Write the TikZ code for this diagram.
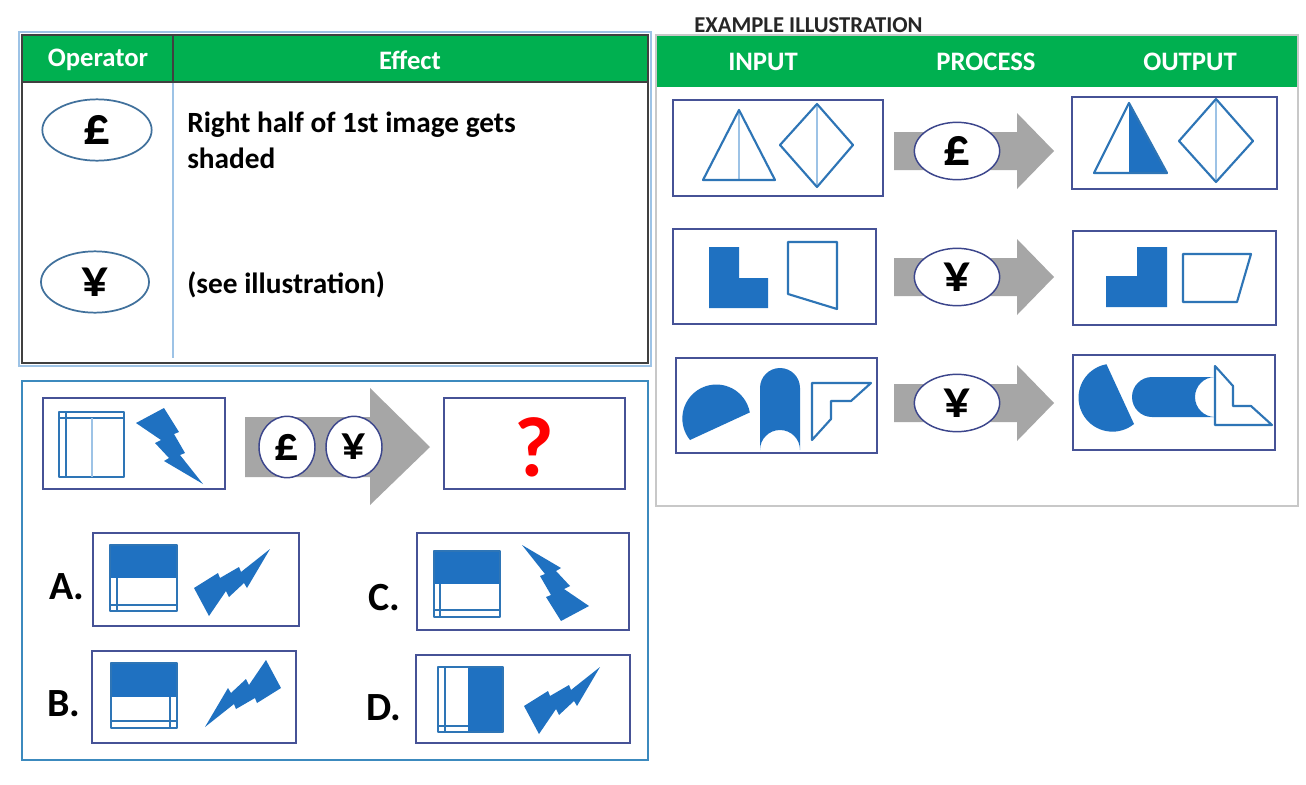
\documentclass[tikz,border=0pt]{standalone}
\usepackage{fontspec}
\setmainfont{Carlito}
\usepackage{xcolor}
\definecolor{HeaderGreen}{RGB}{0,176,80}
\definecolor{BoxNavy}{RGB}{70,82,150}
\definecolor{IconBlue}{RGB}{46,117,182}
\definecolor{ShapeBlue}{RGB}{31,113,193}
\definecolor{LightLine}{RGB}{157,195,230}
\definecolor{FrameBlue}{RGB}{60,138,190}
\definecolor{TableGray}{RGB}{64,64,64}
\definecolor{OpBlue}{RGB}{65,113,156}
\definecolor{ProcNavy}{RGB}{60,70,140}
\definecolor{ArrowGray}{RGB}{166,166,166}
\definecolor{PanelGray}{RGB}{200,200,200}
\definecolor{QuestRed}{RGB}{255,0,0}
\usepackage{tikz}
\usetikzlibrary{
    shapes.geometric
}

\begin{document}
\begin{tikzpicture}[
    x=0.75pt,
    y=-0.75pt,
    navybox/.style={
        draw=BoxNavy,
        line width=1.3pt
    },
    iconline/.style={
        draw=IconBlue,
        line width=1.6pt,
        line join=round
    },
    thinline/.style={
        draw=LightLine,
        line width=0.9pt
    },
    hdr/.style={
        text=white,
        font=\bfseries\fontsize{20}{24}\selectfont
    },
    opsym/.style={
        ellipse,
        fill=white,
        inner sep=0pt,
        font=\bfseries\fontsize{40}{40}\selectfont
    },
    optlabel/.style={
        font=\bfseries\fontsize{30}{30}\selectfont
    },
    bolt/.pic={
        \fill[ShapeBlue]
        (-34,-23) -- (-6,-38) -- (9,-14) -- (4,-12) -- (15,7) -- (10,9)
        -- (33,38) -- (-6,15) -- (-1,12) -- (-15,-3) -- (-9,-6) -- cycle;
    }
]
%
    \useasboundingbox[fill=white] (0,0) rectangle (1306,785);
%
    % Operator table
%
    \draw[LightLine, line width=1pt] (19,32) rectangle (651,366);
    \fill[HeaderGreen] (22,35) rectangle (648,82);
    \draw[thinline] (173,82) -- (173,358);
    \draw[TableGray, line width=1.2pt] (173,35) -- (173,82);
    \draw[TableGray, line width=1.2pt] (22,82) -- (648,82);
    \draw[TableGray, line width=1.5pt] (22,35) rectangle (648,363);
%
    \node[hdr] (hdr-operator) at (98,60) {Operator};
    \node[hdr] (hdr-effect) at (410,60) {Effect};
%
    \node[
        opsym,
        draw=OpBlue,
        line width=1.3pt,
        minimum width=82pt,
        minimum height=46pt
    ] (op-pound) at (97,130) {£};
    \node[
        opsym,
        draw=OpBlue,
        line width=1.3pt,
        minimum width=81pt,
        minimum height=46pt
    ] (op-yen) at (95,282) {¥};
%
    \node[
        anchor=north west,
        align=left,
        inner sep=0pt,
        font=\bfseries\fontsize{22}{26.5}\selectfont
    ] (txt-pound) at (187,112) {
        Right half of 1st image gets\\
        shaded
    };
    \node[
        anchor=base west,
        inner sep=0pt,
        font=\bfseries\fontsize{22}{26.5}\selectfont
    ] (txt-yen) at (187,293) {(see illustration)};
%
    % Example illustration panel
%
    \node[
        anchor=base west,
        inner sep=0pt,
        text=black!85,
        font=\bfseries\fontsize{17}{19}\selectfont
    ] (title-example) at (694,32) {EXAMPLE ILLUSTRATION};
%
    \draw[PanelGray, line width=1.2pt] (656,35) rectangle (1298,506);
    \fill[HeaderGreen] (657,36) rectangle (1297,87);
    \node[hdr] (hdr-input) at (763,62) {INPUT};
    \node[hdr] (hdr-process) at (986,62) {PROCESS};
    \node[hdr] (hdr-output) at (1190,62) {OUTPUT};
%
    \draw[navybox] (673,100) rectangle (883,196);
    \draw[navybox] (1072,97) rectangle (1277,189);
    \draw[navybox] (673,229) rectangle (876,324);
    \draw[navybox] (1073,231) rectangle (1276,325);
    \draw[navybox] (676,358) rectangle (877,453);
    \draw[navybox] (1073,355) rectangle (1275,450);
%
    % row 1: triangle and diamond
    \draw[thinline] (739,110) -- (739,180);
    \draw[iconline] (703,180) -- (775,180) -- (739,110) -- cycle;
    \draw[thinline] (817,104) -- (817,187);
    \draw[iconline] (780,145) -- (817,104) -- (853,145) -- (817,187) -- cycle;
%
    \fill[ShapeBlue] (1129,103) -- (1167,173) -- (1129,173) -- cycle;
    \draw[iconline] (1094,173) -- (1167,173) -- (1129,103) -- cycle;
    \draw[thinline] (1216,99) -- (1216,182);
    \draw[iconline] (1179,141) -- (1216,99) -- (1253,141) -- (1216,182) -- cycle;
%
    % row 2: L shape and quadrilateral
    \fill[ShapeBlue] (709,247) -- (739,247) -- (739,278) -- (768,278)
        -- (768,308) -- (709,308) -- cycle;
    \draw[iconline] (788,242) -- (837,242) -- (837,309) -- (788,294) -- cycle;
%
    \fill[ShapeBlue] (1106,276) -- (1137,276) -- (1137,247) -- (1167,247)
        -- (1167,307) -- (1106,307) -- cycle;
    \draw[iconline] (1183,254) -- (1251,254) -- (1237,302) -- (1183,302) -- cycle;
%
    % row 3: disc segment, arch and bent outline
    \fill[ShapeBlue] (690,440) arc[start angle=140.8, end angle=349.7, radius=34] -- cycle;
    \fill[ShapeBlue] (760,450) -- (760,388) arc[start angle=180, end angle=360, radius=20]
        -- (800,450) arc[start angle=0, end angle=-180, radius=20] -- cycle;
    \draw[iconline] (812,383) -- (871,383) -- (851,401) -- (831,401)
        -- (831,419) -- (812,440) -- cycle;
%
    \fill[ShapeBlue] (1134,424) arc[start angle=50.8, end angle=259.7, radius=34] -- cycle;
    \fill[ShapeBlue] (1215,377) -- (1152,377) arc[start angle=270, end angle=90, radius=20]
        -- (1215,417) arc[start angle=90, end angle=270, radius=20] -- cycle;
    \draw[iconline] (1215,425) -- (1215,366) -- (1233,386) -- (1233,406)
        -- (1251,406) -- (1272,425) -- cycle;
%
    % process arrows
    \foreach \yc/\sym [count=\i] in {151/£,277/¥,403/¥} {
        \fill[ArrowGray]
            (894,{\yc-19}) -- (1017,{\yc-19}) -- (1017,{\yc-38})
            -- (1054,\yc) -- (1017,{\yc+38}) -- (1017,{\yc+19})
            -- (894,{\yc+19}) -- cycle;
        \node[
            opsym,
            draw=ProcNavy,
            line width=1.1pt,
            minimum width=64pt,
            minimum height=43pt
        ] (proc-\i) at (957,\yc) {\sym};
    }
%
    % Question panel
%
    \draw[FrameBlue, line width=1.6pt] (22,381) rectangle (648,760);
%
    \draw[navybox] (43,398) rectangle (225,489);
    \draw[navybox] (444,398) rectangle (625,489);
%
    \draw[iconline] (59,412) rectangle (124,477);
    \draw[iconline] (66,412) -- (66,477);
    \draw[iconline] (59,418) -- (124,418);
    \draw[thinline] (92,418) -- (92,477);
    \pic (bolt-q) at (170,446) {bolt};
%
    \fill[ArrowGray]
        (245,417) -- (370,417) -- (370,388) -- (430,447)
        -- (370,505) -- (370,477) -- (245,477) -- cycle;
    \node[
        opsym,
        draw=ProcNavy,
        line width=1.1pt,
        minimum width=42pt,
        minimum height=46pt,
        font=\bfseries\fontsize{36}{36}\selectfont
    ] (q-pound) at (287,447) {£};
    \node[
        opsym,
        draw=ProcNavy,
        line width=1.1pt,
        minimum width=42pt,
        minimum height=46pt,
        font=\bfseries\fontsize{36}{36}\selectfont
    ] (q-yen) at (354,447) {¥};
%
    \node[
        text=QuestRed,
        font=\bfseries\fontsize{64}{64}\selectfont
    ] (q-mark) at (534,447) {?};
%
    % Answer options
%
    \draw[navybox] (93,533) rectangle (299,626);
    \draw[navybox] (92,651) rectangle (296,743);
    \draw[navybox] (417,533) rectangle (629,630);
    \draw[navybox] (416,655) rectangle (630,743);
%
    \node[optlabel] (lbl-a) at (67,587) {A.};
    \node[optlabel] (lbl-b) at (64,704) {B.};
    \node[optlabel] (lbl-c) at (384,598) {C.};
    \node[optlabel] (lbl-d) at (384,708) {D.};
%
    % option A
    \fill[ShapeBlue] (110,545) rectangle (177,578);
    \draw[iconline] (110,545) rectangle (177,611);
    \draw[iconline] (117,578) -- (117,611);
    \draw[iconline] (110,605) -- (177,605);
    \pic[rotate=90] (bolt-a) at (232,582) {bolt};
%
    % option B
    \fill[ShapeBlue] (111,663) rectangle (177,697);
    \draw[iconline] (111,663) rectangle (177,728);
    \draw[iconline] (170,697) -- (170,728);
    \draw[iconline] (111,721) -- (177,721);
    \pic[rotate=-90] (bolt-b) at (243,694) {bolt};
%
    % option C
    \fill[ShapeBlue] (434,551) rectangle (500,584);
    \draw[iconline] (434,551) rectangle (500,617);
    \draw[iconline] (440,584) -- (440,617);
    \draw[iconline] (434,610) -- (500,610);
    \pic[rotate=180] (bolt-c) at (555,583) {bolt};
%
    % option D
    \fill[ShapeBlue] (468,667) rectangle (503,732);
    \draw[iconline] (438,667) rectangle (503,732);
    \draw[iconline] (445,667) -- (445,732);
    \draw[iconline] (438,726) -- (468,726);
    \pic[rotate=90] (bolt-d) at (562,700) {bolt};
%
\end{tikzpicture}
\end{document}
